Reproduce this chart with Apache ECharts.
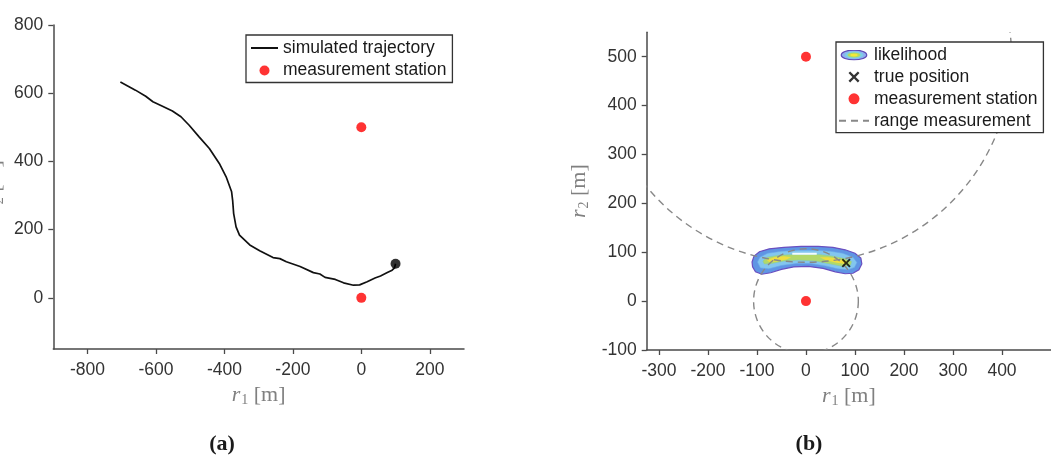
<!DOCTYPE html>
<html><head><meta charset="utf-8">
<script src="https://cdn.jsdelivr.net/npm/echarts@6/dist/echarts.min.js"></script>
<style>html,body{margin:0;padding:0;background:#fff}#c{width:1051px;height:465px}</style>
</head><body><div id="c"></div>
<script>
// ---------- data ----------
// (a) simulated trajectory [r1, r2] in metres
const trajR1 = [-704,-680,-660,-630,-609,-581,-552,-527,-503,-474,-444,-415,-395,-379,-376,-373,-366,-356,-326,-297,-258,-238,-219,-179,-140,-121,-106,-76,-52,-23,-5,17,40,56,76,90,97,100];
const trajR2 = [633,620,609,591,575,562,548,531,506,472,438,394,355,311,286,247,208,184,155,138,118,115,106,92,74,70,60,54,44,37,38,47,58,64,74,81,88,100];
const trajEndR1 = [100];
const trajEndR2 = [100];
// measurement stations
const stationR1 = [0, 0];
const stationR2 = [0, 500];
// (b) true position
const truePosR1 = [82];
const truePosR2 = [78];
// (b) range measurements (radius around each station)
const rangeRadius = [107, 420];
// (b) likelihood contour levels, outline points [r1, r2]
const likelihoodL1 = [[-110,80],[-106,92],[-95,101],[-75,107],[-45,110],[-10,112],[25,112],[55,110],[80,105],[100,98],[112,88],[114,76],[108,64],[96,57],[80,56],[60,60],[35,67],[5,71],[-25,70],[-50,65],[-72,58],[-90,55],[-103,60],[-109,70]];
const likelihoodL2 = [[-99,80],[-94,90],[-78,98],[-50,102],[-15,104],[20,104],[50,102],[75,98],[96,90],[104,79],[99,69],[86,64],[65,66],[40,72],[10,77],[-20,77],[-50,73],[-76,66],[-93,68]];
const likelihoodL3 = [[-88,82],[-78,90],[-55,94],[-30,95],[0,96],[30,95],[55,92],[78,87],[93,81],[91,74],[76,71],[50,76],[20,82],[-15,84],[-45,82],[-70,77],[-85,76]];
const likelihoodL4a = [[-80,84],[-65,90],[-45,92],[-30,90],[-40,85],[-60,81],[-75,80]];
const likelihoodL4b = [[28,90],[45,90],[65,87],[84,81],[80,76],[60,79],[40,84]];
const likelihoodRidge = [[-28,97],[22,97]];
// ticks
const xTicksA = [-800,-600,-400,-200,0,200];
const yTicksA = [0,200,400,600,800];
const xTicksB = [-300,-200,-100,0,100,200,300,400];
const yTicksB = [-100,0,100,200,300,400,500];

// ---------- chart ----------
const chart = echarts.init(document.getElementById('c'), null, {renderer:'canvas'});
const AX = '#4a4a4a';
const LBL = '#333333';
const NAMEC = '#808080';
const FS = 17.5;
function nameRich(){
  return {color:NAMEC, fontFamily:'Liberation Serif', fontSize:22,
    rich:{
      i:{fontStyle:'italic', fontFamily:'Liberation Serif', fontSize:22, color:NAMEC},
      s:{fontFamily:'Liberation Serif', fontSize:14, color:NAMEC, padding:[10,0,0,1]},
      t:{fontFamily:'Liberation Serif', fontSize:22, color:NAMEC}
    }};
}
function axis(gridIndex, min, max, ticks, isX, name, nameGap){
  return {
    type:'value', gridIndex, min, max,
    name, nameLocation:'middle', nameGap, nameTextStyle:nameRich(),
    axisLine:{show:true, onZero:false, lineStyle:{color:AX, width:1.5}},
    axisTick:{show:true, inside:false, length:5, customValues:ticks, lineStyle:{color:AX, width:1.3}},
    axisLabel:{show:true, customValues:ticks, color:LBL, fontSize:FS, fontFamily:'Liberation Sans', margin: isX ? 12 : 10},
    splitLine:{show:false}
  };
}
const ellipseSvg = '<svg xmlns="http://www.w3.org/2000/svg" width="30" height="12" viewBox="0 0 30 12">'+
  '<ellipse cx="15" cy="6" rx="14" ry="5.4" fill="#8fb0ee" stroke="#5d47b5" stroke-width="1.3"/>'+
  '<ellipse cx="15" cy="6" rx="10" ry="3.8" fill="#7cd0e6"/>'+
  '<ellipse cx="15" cy="6" rx="7" ry="2.6" fill="#b8dc5e"/>'+
  '<ellipse cx="15" cy="6" rx="4" ry="1.5" fill="#f4e83a"/></svg>';
const ellipseIcon = 'image://data:image/svg+xml;charset=utf-8,' + encodeURIComponent(ellipseSvg);
const xPath = 'path://M1.5,0L5,3.5L8.5,0L10,1.5L6.5,5L10,8.5L8.5,10L5,6.5L1.5,10L0,8.5L3.5,5L0,1.5Z';

function poly(api, pts, style){
  return {type:'polygon', shape:{points: pts.map(p => api.coord(p))}, style};
}
const hiddenSym = {opacity:0, color:'rgba(0,0,0,0)', borderWidth:0};

const option = {
  animation:false,
  backgroundColor:'#ffffff',
  grid:[
    {left:53.3, top:25, width:410.7, height:324, containLabel:false, outerBoundsMode:'none'},
    {left:646.7, top:32.3, width:404.3, height:317.7, containLabel:false, outerBoundsMode:'none'}
  ],
  xAxis:[
    axis(0, -900, 300, xTicksA, true, '{i|r}{s|1}{t| [m]}', 34),
    axis(1, -325, 500, xTicksB, true, '{i|r}{s|1}{t| [m]}', 34)
  ],
  yAxis:[
    axis(0, -150, 800, yTicksA, false, '{i|r}{s|2}{t| [m]}', 47),
    axis(1, -100, 550, yTicksB, false, '{i|r}{s|2}{t| [m]}', 55)
  ],
  legend:[
    {orient:'vertical', left:246, top:35, padding:[4,6,3,4], itemGap:4.5, itemWidth:27, itemHeight:10,
     backgroundColor:'#fff', borderColor:'#333', borderWidth:1.3, borderRadius:0,
     textStyle:{fontSize:FS, fontFamily:'Liberation Sans', color:'#1a1a1a'},
     selectedMode:false,
     data:[{name:'simulated trajectory', itemStyle:hiddenSym},{name:'measurement station', icon:'circle'}]},
    {orient:'vertical', left:836, top:42, padding:[4,6,3,2], itemGap:3.9, itemWidth:30, itemHeight:11,
     backgroundColor:'#fff', borderColor:'#333', borderWidth:1.3, borderRadius:0,
     textStyle:{fontSize:FS, fontFamily:'Liberation Sans', color:'#1a1a1a'},
     selectedMode:false,
     data:[{name:'likelihood', icon:ellipseIcon},{name:'true position', icon:xPath},{name:'measurement station', icon:'circle'},{name:'range measurement', itemStyle:hiddenSym}]}
  ],
  series:[
    {name:'simulated trajectory', type:'line', xAxisIndex:0, yAxisIndex:0, symbol:'none', smooth:false,
     lineStyle:{color:'#111', width:1.7}, itemStyle:{color:'#111'},
     data: trajR1.map((x,i)=>[x, trajR2[i]]), z:3},
    {name:'end', type:'scatter', xAxisIndex:0, yAxisIndex:0, symbol:'circle', symbolSize:10,
     itemStyle:{color:'#000'}, data: trajEndR1.map((x,i)=>[x, trajEndR2[i]]), z:4},
    {name:'measurement station', type:'scatter', xAxisIndex:0, yAxisIndex:0, symbol:'circle', symbolSize:10,
     itemStyle:{color:'#ff0000'}, data: stationR1.map((x,i)=>[x, stationR2[i]]), z:4},
    // (b)
    {name:'likelihood', type:'custom', xAxisIndex:1, yAxisIndex:1, clip:true, z:2,
     itemStyle:{color:'#5b93e3'},
     data:[[0,0]],
     renderItem:(params, api)=>({type:'group', children:[
       poly(api, likelihoodL1, {fill:'#5f95e4', stroke:'#6a4fc0', lineWidth:1.2}),
       poly(api, likelihoodL2, {fill:'#83c6ee', stroke:'#6aa8ea', lineWidth:0.6}),
       poly(api, likelihoodL3, {fill:'#b2d86a', stroke:'#8ccf9a', lineWidth:0.6}),
       poly(api, likelihoodL4a, {fill:'#f0de3e'}),
       poly(api, likelihoodL4b, {fill:'#f0de3e'}),
       {type:'polyline', shape:{points: likelihoodRidge.map(p=>api.coord(p))}, style:{stroke:'#f2fbff', lineWidth:2, fill:null}}
     ]})},
    {name:'range circles', type:'custom', xAxisIndex:1, yAxisIndex:1, clip:true, z:3,
     data: stationR1.map((x,i)=>[x, stationR2[i], rangeRadius[i]]),
     encode:{x:0, y:1},
     renderItem:(params, api)=>{
       const c = api.coord([api.value(0), api.value(1)]);
       const r = api.size([api.value(2), api.value(2)]);
       return {type:'circle', shape:{cx:c[0], cy:c[1], r:(r[0]+r[1])/2},
         style:{fill:null, stroke:'#888', lineWidth:1.4, lineDash:[7,5]}};
     }},
    {name:'range measurement', type:'line', xAxisIndex:1, yAxisIndex:1, symbol:'none', data:[],
     lineStyle:{color:'#888', width:1.4, type:[7,5]}, itemStyle:{color:'#888'}},
    {name:'measurement station', type:'scatter', xAxisIndex:1, yAxisIndex:1, symbol:'circle', symbolSize:10,
     itemStyle:{color:'#ff0000'}, data: stationR1.map((x,i)=>[x, stationR2[i]]), z:4},
    {name:'true position', type:'scatter', xAxisIndex:1, yAxisIndex:1, symbol:xPath, symbolSize:9,
     itemStyle:{color:'#000'}, data: truePosR1.map((x,i)=>[x, truePosR2[i]]), z:5}
  ],
  graphic:[
    {type:'text', x:222, y:444, style:{text:'(a)', textAlign:'center', textVerticalAlign:'middle', font:'bold 22px "Liberation Serif"', fill:'#1a1a1a'}},
    {type:'text', x:809, y:444, style:{text:'(b)', textAlign:'center', textVerticalAlign:'middle', font:'bold 22px "Liberation Serif"', fill:'#1a1a1a'}}
  ]
};
chart.setOption(option);
</script></body></html>
